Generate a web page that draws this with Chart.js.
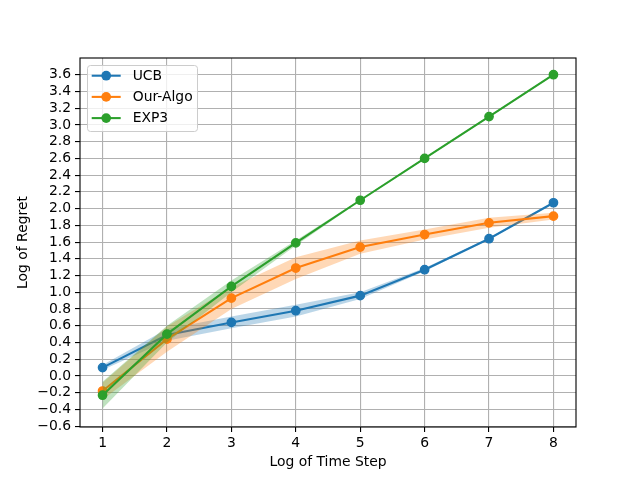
<!DOCTYPE html>
<html>
<head>
<meta charset="utf-8">
<script src="https://cdn.jsdelivr.net/npm/chart.js@4/dist/chart.umd.min.js"></script>
<style>
  html, body { margin: 0; padding: 0; background: #fff; }
  canvas { display: block; }
</style>
</head>
<body>
<canvas id="c" width="640" height="480"></canvas>
<script>
// ---- data ----
const timeSteps = [1, 2, 3, 4, 5, 6, 7, 8];
const xTicks = [1, 2, 3, 4, 5, 6, 7, 8];
const yTicks = [-0.6, -0.4, -0.2, 0.0, 0.2, 0.4, 0.6, 0.8, 1.0, 1.2, 1.4, 1.6, 1.8, 2.0, 2.2, 2.4, 2.6, 2.8, 3.0, 3.2, 3.4, 3.6];
const seriesNames = ['UCB', 'Our-Algo', 'EXP3'];
const ucbMean  = [0.10, 0.49, 0.64, 0.78, 0.96, 1.27, 1.64, 2.07];
const ucbSpread = [0.03, 0.07, 0.07, 0.07, 0.04, 0.02, 0.01, 0.01];
const ourMean  = [-0.18, 0.44, 0.93, 1.29, 1.54, 1.69, 1.83, 1.91];
const ourSpread = [0.10, 0.15, 0.13, 0.13, 0.08, 0.06, 0.06, 0.04];
const exp3Mean = [-0.23, 0.50, 1.07, 1.59, 2.10, 2.60, 3.10, 3.60];
const exp3Spread = [0.16, 0.10, 0.07, 0.03, 0.01, 0.01, 0.01, 0.01];
const colors = ['#1f77b4', '#ff7f0e', '#2ca02c'];
const bandColors = ['rgba(31,119,180,0.3)', 'rgba(255,127,14,0.3)', 'rgba(44,160,44,0.3)'];

const means = [ucbMean, ourMean, exp3Mean];
const spreads = [ucbSpread, ourSpread, exp3Spread];

const FONT = 'DejaVu Sans';
const FS = 13.9;

const datasets = [];
// draw order like matplotlib: line1, band1, line2, band2, line3, band3
let ord = 100;
means.forEach((m, s) => {
  datasets.push({
    label: seriesNames[s],
    data: timeSteps.map((x, i) => ({x, y: m[i]})),
    borderColor: colors[s], backgroundColor: colors[s],
    pointBackgroundColor: colors[s], pointBorderColor: colors[s],
    borderWidth: 2.08, pointRadius: 4.17, pointBorderWidth: 1.39,
    fill: false, tension: 0, order: ord--
  });
  const lowIdx = datasets.length;
  datasets.push({
    label: seriesNames[s] + ' lower',
    data: timeSteps.map((x, i) => ({x, y: m[i] - spreads[s][i]})),
    borderWidth: 0, pointRadius: 0, borderColor: 'rgba(0,0,0,0)',
    fill: false, tension: 0, order: ord--
  });
  datasets.push({
    label: seriesNames[s] + ' upper',
    data: timeSteps.map((x, i) => ({x, y: m[i] + spreads[s][i]})),
    borderWidth: 0, pointRadius: 0, borderColor: 'rgba(0,0,0,0)',
    backgroundColor: bandColors[s],
    fill: {target: lowIdx}, tension: 0, order: ord--
  });
});

const fmtY = v => {
  const r = Math.round(v * 10) / 10;
  const s = Math.abs(r).toFixed(1);
  return (r < 0 ? '\u2212' : '') + s;
};

const framePlugin = {
  id: 'frame',
  afterDatasetsDraw(chart) {
    const {ctx, chartArea: a} = chart;
    ctx.save();
    ctx.strokeStyle = '#000';
    ctx.lineWidth = 1.11;
    ctx.strokeRect(a.left, a.top, a.right - a.left, a.bottom - a.top);
    ctx.restore();
  }
};

const legendPlugin = {
  id: 'mplLegend',
  afterDraw(chart) {
    const ctx = chart.ctx;
    ctx.save();
    const x0 = 87.5, y0 = 65.5, w = 110, h = 66, r = 3;
    ctx.beginPath();
    ctx.moveTo(x0 + r, y0);
    ctx.arcTo(x0 + w, y0, x0 + w, y0 + h, r);
    ctx.arcTo(x0 + w, y0 + h, x0, y0 + h, r);
    ctx.arcTo(x0, y0 + h, x0, y0, r);
    ctx.arcTo(x0, y0, x0 + w, y0, r);
    ctx.closePath();
    ctx.fillStyle = 'rgba(255,255,255,0.8)';
    ctx.fill();
    ctx.strokeStyle = '#cccccc';
    ctx.lineWidth = 1;
    ctx.stroke();
    const rows = [75.7, 96.9, 118.1];
    ctx.font = FS + 'px "' + FONT + '"';
    ctx.textBaseline = 'middle';
    ctx.textAlign = 'left';
    seriesNames.forEach((name, i) => {
      const y = rows[i];
      ctx.strokeStyle = colors[i];
      ctx.lineWidth = 2.08;
      ctx.beginPath();
      ctx.moveTo(91.7, y); ctx.lineTo(120.7, y);
      ctx.stroke();
      ctx.fillStyle = colors[i];
      ctx.beginPath();
      ctx.arc(106.2, y, 4.86, 0, Math.PI * 2);
      ctx.fill();
      ctx.fillStyle = '#000';
      ctx.fillText(name, 132.7, y + 0.5);
    });
    ctx.restore();
  }
};

new Chart(document.getElementById('c'), {
  type: 'line',
  data: { datasets },
  options: {
    responsive: false,
    animation: false,
    devicePixelRatio: 1,
    layout: { padding: { left: 0, right: 64, top: 58, bottom: 0 } },
    plugins: {
      legend: { display: false },
      tooltip: { enabled: false },
      filler: { propagate: false }
    },
    scales: {
      x: {
        type: 'linear',
        min: 0.65, max: 8.35,
        afterBuildTicks: sc => { sc.ticks = xTicks.map(v => ({value: v})); },
        afterFit: sc => { sc.height = 53; },
        ticks: {
          color: '#000', font: { family: FONT, size: FS }, padding: 3,
          maxRotation: 0, autoSkip: false,
          callback: v => String(v)
        },
        grid: { color: '#b0b0b0', lineWidth: 1.11, tickColor: '#000', tickLength: 5, drawTicks: true },
        border: { display: false },
        title: {
          display: true, text: 'Log of Time Step', color: '#000',
          font: { family: FONT, size: FS }, padding: { top: 0, bottom: 9.7 }
        }
      },
      y: {
        type: 'linear',
        min: -0.61, max: 3.80,
        afterBuildTicks: sc => { sc.ticks = yTicks.map(v => ({value: v})); },
        afterFit: sc => { sc.width = 80; },
        ticks: {
          color: '#000', font: { family: FONT, size: FS }, padding: 4,
          autoSkip: false, callback: v => fmtY(v)
        },
        grid: { color: '#b0b0b0', lineWidth: 1.11, tickColor: '#000', tickLength: 5, drawTicks: true },
        border: { display: false },
        title: {
          display: true, text: 'Log of Regret', color: '#000',
          font: { family: FONT, size: FS }, padding: { top: 14.7, bottom: 0 }
        }
      }
    }
  },
  plugins: [framePlugin, legendPlugin]
});
</script>
</body>
</html>
